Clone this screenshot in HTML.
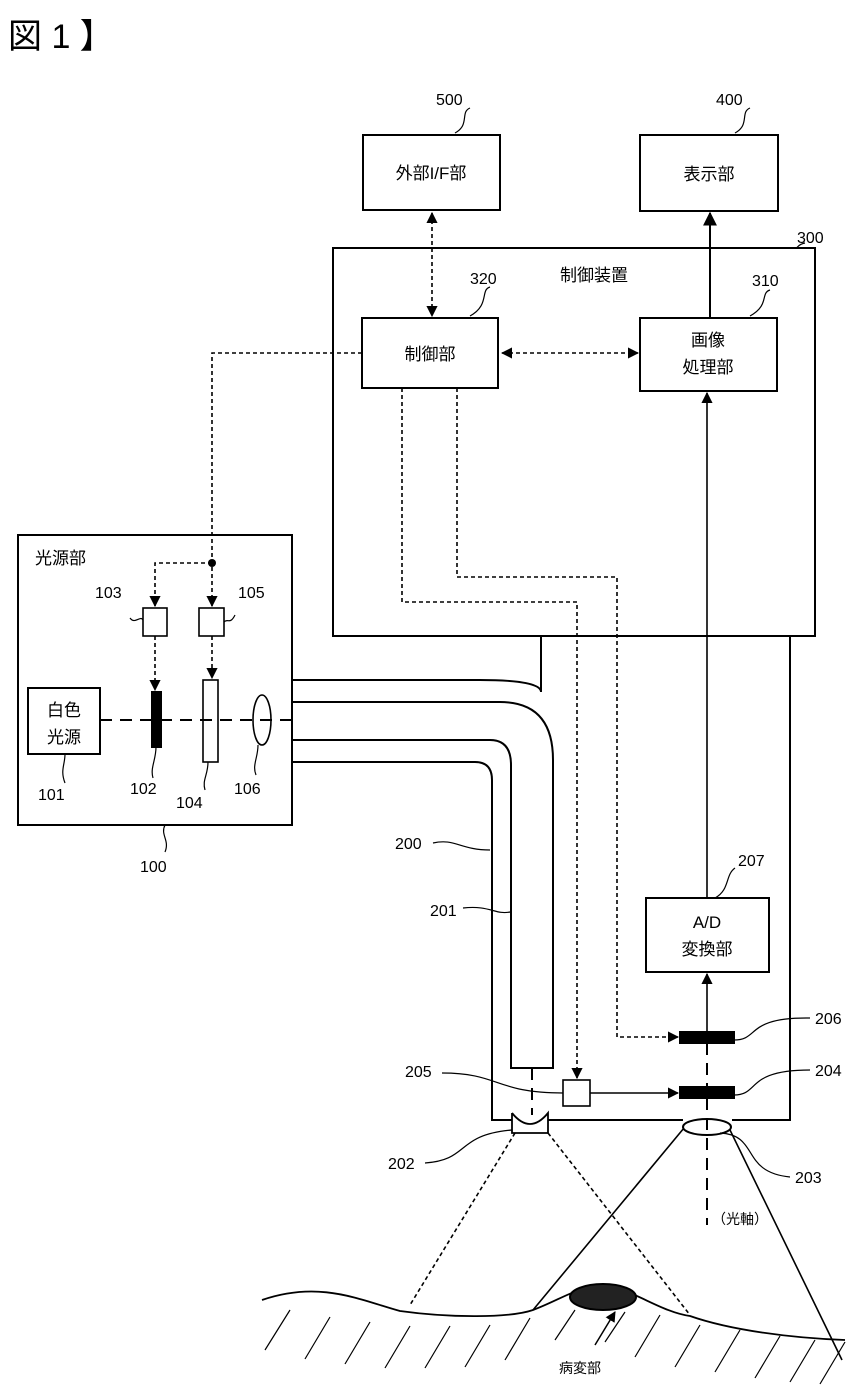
<!DOCTYPE html>
<html><head><meta charset="utf-8"><style>
html,body{margin:0;padding:0;background:#fff;}
svg{display:block;}
text{font-family:"Liberation Sans","Noto Sans CJK JP",sans-serif;fill:#000;}
</style></head><body>
<svg width="855" height="1397" viewBox="0 0 855 1397" xmlns="http://www.w3.org/2000/svg">
<defs>
<marker id="a" viewBox="0 0 10 10" refX="9" refY="5" markerWidth="7" markerHeight="7" orient="auto-start-reverse"><path d="M0,0 L10,5 L0,10 z" fill="#000"/></marker>
</defs>
<g fill="none" stroke="#000" stroke-width="2">
<!-- boxes -->
<rect x="363" y="135" width="137" height="75"/>
<rect x="640" y="135" width="138" height="76"/>
<rect x="333" y="248" width="482" height="388"/>
<rect x="362" y="318" width="136" height="70"/>
<rect x="640" y="318" width="137" height="73"/>
<rect x="18" y="535" width="274" height="290"/>
<rect x="28" y="688" width="72" height="66"/>
<rect x="143" y="608" width="24" height="28" stroke-width="1.6"/>
<rect x="199" y="608" width="25" height="28" stroke-width="1.6"/>
<rect x="152" y="692" width="9" height="55" fill="#000"/>
<rect x="203" y="680" width="15" height="82" stroke-width="1.6"/>
<ellipse cx="262" cy="720" rx="9" ry="25" stroke-width="1.6"/>
<rect x="646" y="898" width="123" height="74"/>
<rect x="563" y="1080" width="27" height="26" stroke-width="1.6"/>
<rect x="680" y="1032" width="54" height="11" fill="#000"/>
<rect x="680" y="1087" width="54" height="11" fill="#000"/>
<!-- pipe -->
<path d="M292,680 H480 Q541,680 541,692 V636"/>
<path d="M292,702 H500 Q553,702 553,760 V1068 H511 V765 Q511,740 490,740 H292"/>
<path d="M292,762 H475 Q492,762 492,780 V1120 H512 M548,1120 H683 M732,1120 H790 V636"/>
<!-- lens 202 -->
<path d="M512,1113 V1133 H548 V1113 Q530,1135 512,1113" stroke-width="1.8"/>
<ellipse cx="707" cy="1127" rx="24" ry="8" fill="#fff"/>
<!-- cone -->
<path d="M684,1128 L533,1310 M730,1130 L842,1360" stroke-width="1.6"/>
<!-- surface -->
<path d="M262,1300 C320,1280 360,1300 400,1311 C450,1318 510,1318 533,1310 C560,1300 580,1285 603,1286 C630,1287 660,1312 690,1316 C730,1330 790,1338 845,1340" stroke-width="1.8"/>
<path d="M290,1310 l-25,40 M330,1317 l-25,42 M370,1322 l-25,42 M410,1326 l-25,42 M450,1326 l-25,42 M490,1325 l-25,42 M530,1318 l-25,42 M575,1310 l-20,30 M625,1312 l-20,30 M660,1315 l-25,42 M700,1325 l-25,42 M740,1330 l-25,42 M780,1336 l-25,42 M815,1340 l-25,42 M845,1342 l-25,42" stroke-width="1.2"/>
<ellipse cx="603" cy="1297" rx="33" ry="13" fill="#222"/>
<path d="M595,1345 L615,1312" marker-end="url(#a)" stroke-width="1.5"/>
<!-- solid arrows -->
<path d="M710,318 V213" marker-end="url(#a)"/>
<path d="M707,898 V393" marker-end="url(#a)" stroke-width="1.6"/>
<path d="M707,1032 V974" marker-end="url(#a)" stroke-width="1.6"/>
<path d="M590,1093 H678" marker-end="url(#a)" stroke-width="1.6"/>
</g>
<g fill="none" stroke="#000" stroke-width="1.6" stroke-dasharray="4,3">
<path d="M432,213 V316" marker-start="url(#a)" marker-end="url(#a)"/>
<path d="M502,353 H638" marker-start="url(#a)" marker-end="url(#a)"/>
<path d="M362,353 H212 V606" marker-end="url(#a)"/>
<path d="M212,563 H155 V606" marker-end="url(#a)"/>
<path d="M155,636 V690" marker-end="url(#a)"/>
<path d="M212,636 V678" marker-end="url(#a)"/>
<path d="M402,388 V602 H577 V1078" marker-end="url(#a)"/>
<path d="M457,388 V577 H617 V1037 H678" marker-end="url(#a)"/>
<path d="M515,1133 L410,1305 M548,1133 L690,1315"/>
</g>
<g fill="none" stroke="#000" stroke-width="2" stroke-dasharray="12,8">
<path d="M100,720 H292"/>
<path d="M532,1068 V1115"/>
<path d="M707,1043 V1087 M707,1098 V1225"/>
</g>
<circle cx="212" cy="563" r="4" fill="#000"/>
<!-- squiggle leaders -->
<g fill="none" stroke="#000" stroke-width="1.2">
<path d="M470,108 C460,112 470,125 455,133"/>
<path d="M750,108 C740,112 750,125 735,133"/>
<path d="M805,243 C795,245 800,250 790,248"/>
<path d="M490,287 C480,290 490,305 470,316"/>
<path d="M770,290 C760,293 770,305 750,316"/>
<path d="M130,618 C135,625 140,615 143,620"/>
<path d="M235,615 C230,625 228,618 224,622"/>
<path d="M65,754 C65,765 60,770 65,783"/>
<path d="M156,747 C156,760 150,768 153,778"/>
<path d="M208,762 C208,775 202,780 205,790"/>
<path d="M258,745 C258,758 252,765 256,775"/>
<path d="M165,825 C160,835 170,840 165,852"/>
<path d="M433,843 C455,838 460,850 490,850"/>
<path d="M463,908 C490,905 495,915 510,912"/>
<path d="M735,868 C725,875 730,890 715,898"/>
<path d="M734,1040 C760,1040 745,1017 810,1018"/>
<path d="M734,1095 C760,1095 745,1070 810,1070"/>
<path d="M442,1073 C500,1073 495,1093 563,1093"/>
<path d="M425,1163 C470,1160 455,1135 512,1130"/>
<path d="M720,1133 C760,1135 740,1172 790,1177"/>
</g>
<!-- text -->
<text x="8" y="48" font-size="34">図 1 】</text>
<g font-size="16">
<text x="436" y="105">500</text>
<text x="716" y="105">400</text>
<text x="797" y="243">300</text>
<text x="470" y="284">320</text>
<text x="752" y="286">310</text>
<text x="95" y="598">103</text>
<text x="238" y="598">105</text>
<text x="38" y="800">101</text>
<text x="130" y="794">102</text>
<text x="176" y="808">104</text>
<text x="234" y="794">106</text>
<text x="140" y="872">100</text>
<text x="395" y="849">200</text>
<text x="430" y="916">201</text>
<text x="738" y="866">207</text>
<text x="815" y="1024">206</text>
<text x="815" y="1076">204</text>
<text x="405" y="1077">205</text>
<text x="388" y="1169">202</text>
<text x="795" y="1183">203</text>
</g>
<g font-size="17" text-anchor="middle">
<text x="431" y="179">外部I/F部</text>
<text x="709" y="180">表示部</text>
<text x="594" y="281">制御装置</text>
<text x="430" y="360">制御部</text>
<text x="708" y="346">画像</text>
<text x="708" y="373">処理部</text>
<text x="64" y="716">白色</text>
<text x="64" y="743">光源</text>
<text x="707" y="928">A/D</text>
<text x="707" y="955">変換部</text>
</g>
<text x="35" y="564" font-size="17">光源部</text>
<text x="712" y="1224" font-size="14">（光軸）</text>
<text x="580" y="1373" font-size="14" text-anchor="middle">病変部</text>
</svg>
</body></html>
